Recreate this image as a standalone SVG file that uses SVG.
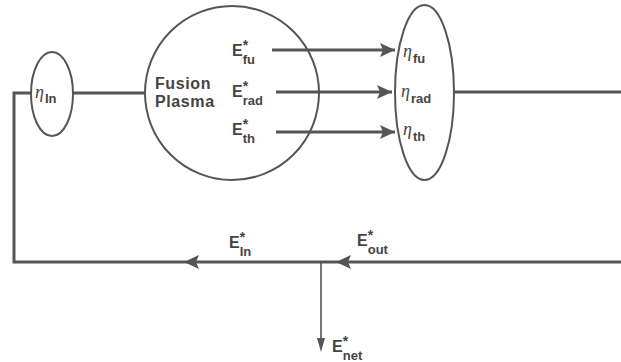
<svg xmlns="http://www.w3.org/2000/svg" width="621" height="362" viewBox="0 0 621 362">
<style>
.shape{fill:none;stroke:#555;stroke-width:2}
.line{fill:none;stroke:#555;stroke-width:3}
.thin{fill:none;stroke:#555;stroke-width:1.6}
.lbl{font-family:"Liberation Sans",Arial,sans-serif;font-weight:bold;font-style:normal;fill:#444;font-size:16px}
.sub{font-size:13px}
.ast{font-size:14px}
.eta{font-family:"Liberation Serif","Times New Roman",serif;font-style:italic;fill:#444;font-size:18px}
</style>
<defs>
<marker id="ah" markerUnits="userSpaceOnUse" markerWidth="16" markerHeight="14" refX="15" refY="7" orient="auto">
<path d="M0,0 L15,7 L0,14 L3,7 Z" fill="#555"/>
</marker>
</defs>
<rect width="621" height="362" fill="#fff"/>
<g id="connectors">
<path class="line" d="M31,93 H14 V262 H184"/>
<path class="line" d="M336,262 H184" marker-end="url(#ah)"/>
<path class="line" d="M621,262 H336" marker-end="url(#ah)"/>
<path class="thin" d="M321,262 V338"/>
<path d="M317,338 L321,352 L325,338 Z" fill="#555"/>
<path class="line" d="M73,93 H145"/>
<path class="line" d="M454,92 H621"/>
<path class="line" d="M272,50 H395" marker-end="url(#ah)"/>
<path class="line" d="M276,92 H392" marker-end="url(#ah)"/>
<path class="line" d="M276,132 H395" marker-end="url(#ah)"/>
</g>
<g id="eta_in">
<ellipse class="shape" cx="52" cy="94" rx="21" ry="42"/>
<text class="eta" x="35" y="98">η<tspan class="lbl sub" dx="1" dy="5">In</tspan></text>
</g>
<g id="fusion_plasma">
<circle class="shape" cx="232" cy="93" r="87"/>
<text class="lbl" x="155" y="89" font-size="18" letter-spacing="0.6">Fusion</text>
<text class="lbl" x="155" y="107" font-size="18" letter-spacing="0.6">Plasma</text>
<text class="lbl" x="232" y="56">E<tspan class="ast" dy="-6">*</tspan><tspan class="sub" dx="-5.4" dy="14">fu</tspan></text>
<text class="lbl" x="232" y="97">E<tspan class="ast" dy="-6">*</tspan><tspan class="sub" dx="-5.4" dy="14">rad</tspan></text>
<text class="lbl" x="232" y="135">E<tspan class="ast" dy="-6">*</tspan><tspan class="sub" dx="-5.4" dy="14">th</tspan></text>
</g>
<g id="eta_out">
<ellipse class="shape" cx="424.5" cy="92.5" rx="29.5" ry="87.5"/>
<text class="eta" x="403" y="57">η<tspan class="lbl sub" dx="1" dy="6">fu</tspan></text>
<text class="eta" x="401" y="97">η<tspan class="lbl sub" dx="1" dy="6">rad</tspan></text>
<text class="eta" x="403" y="135">η<tspan class="lbl sub" dx="1" dy="6">th</tspan></text>
</g>
<g id="labels_bottom">
<text class="lbl" x="229" y="248">E<tspan class="ast" dy="-6">*</tspan><tspan class="sub" dx="-5.4" dy="14">In</tspan></text>
<text class="lbl" x="357" y="246">E<tspan class="ast" dy="-6">*</tspan><tspan class="sub" dx="-5.4" dy="14">out</tspan></text>
<text class="lbl" x="332" y="352">E<tspan class="ast" dy="-6">*</tspan><tspan class="sub" dx="-5.4" dy="14">net</tspan></text>
</g>
</svg>
